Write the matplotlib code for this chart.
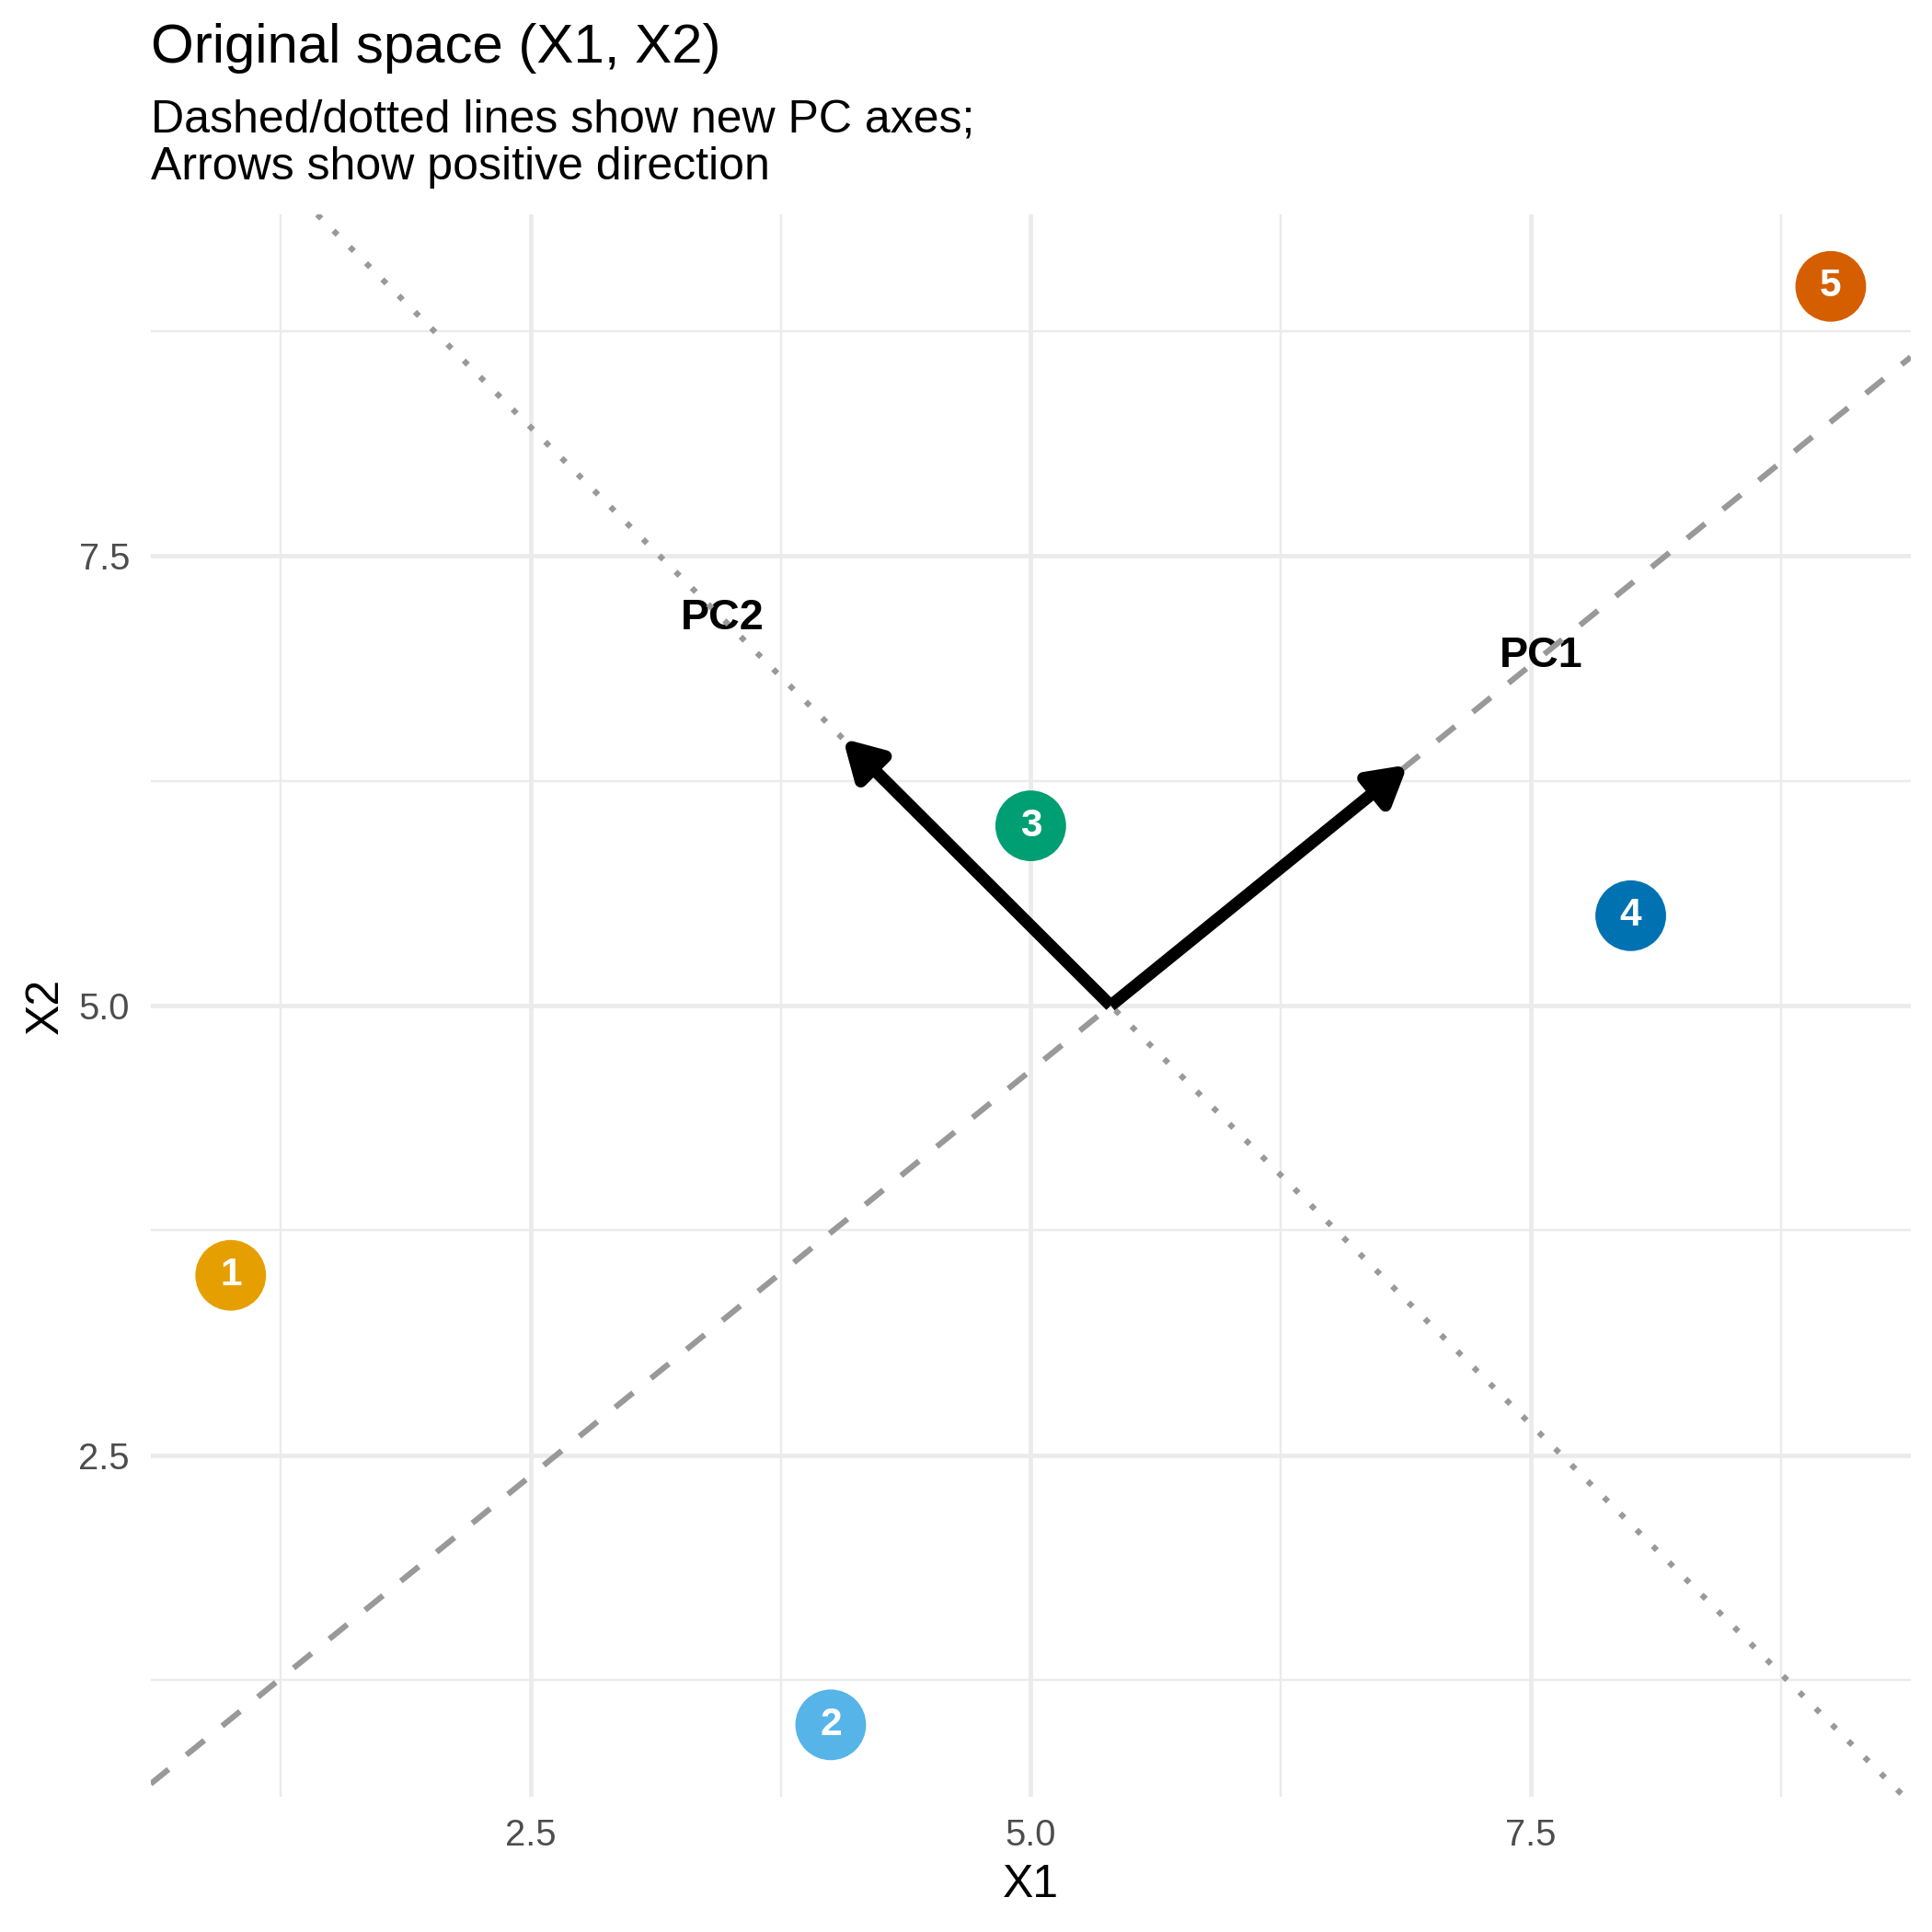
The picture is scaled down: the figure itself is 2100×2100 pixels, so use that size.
import numpy as np
import matplotlib.pyplot as plt
from matplotlib.patches import FancyArrowPatch, ArrowStyle
from matplotlib.ticker import MultipleLocator

plt.rcParams['font.family'] = ['Liberation Sans', 'DejaVu Sans']

# data
point_id = ["1", "2", "3", "4", "5"]
x1 = np.array([1.0, 4.0, 5.0, 8.0, 9.0])
x2 = np.array([3.5, 1.0, 6.0, 5.5, 9.0])
point_colors = ["#E69F00", "#56B4E9", "#009E73", "#0072B2", "#D55E00"]
pc_names = ["PC1", "PC2"]
arrow_scale = 2.0
label_scale = 2.9

# PCA on the points
center = np.array([x1.mean(), x2.mean()])
cov = np.cov(np.vstack([x1, x2]))
evals, evecs = np.linalg.eigh(cov)
order = np.argsort(evals)[::-1]
evecs = evecs[:, order]
pc1 = evecs[:, 0] * np.sign(evecs[0, 0])
pc2 = evecs[:, 1] * np.sign(evecs[1, 1])

fig = plt.figure(figsize=(7, 7), dpi=300)
ax = fig.add_axes([0.078, 0.070, 0.911, 0.819])

grid_col = "#EBEBEB"
ax.set_xlim(0.6, 9.4)
ax.set_ylim(0.6, 9.4)
for s in ax.spines.values():
    s.set_visible(False)
ax.xaxis.set_major_locator(MultipleLocator(2.5))
ax.yaxis.set_major_locator(MultipleLocator(2.5))
ax.xaxis.set_minor_locator(MultipleLocator(1.25))
ax.yaxis.set_minor_locator(MultipleLocator(1.25))
ax.grid(which="major", color=grid_col, linewidth=1.15)
ax.grid(which="minor", color=grid_col, linewidth=0.58)
ax.set_axisbelow(True)
ax.tick_params(which="both", length=0)
ax.tick_params(axis="both", labelsize=9.6, labelcolor="#4D4D4D")
ax.tick_params(axis="x", pad=5.5)
ax.tick_params(axis="y", pad=5.5)
ax.xaxis.set_major_formatter(plt.FuncFormatter(lambda v, p: f"{v:.1f}"))
ax.yaxis.set_major_formatter(plt.FuncFormatter(lambda v, p: f"{v:.1f}"))

# PC labels sit underneath the axis lines
for name, vec in zip(pc_names, (pc1, pc2)):
    pos = center + label_scale * vec
    ax.text(pos[0], pos[1], name, fontsize=11.2, fontweight="bold",
            ha="center", va="center", zorder=3)

# PC axes lines
ax.axline(center, slope=pc1[1] / pc1[0], color="#999999", lw=1.5,
          linestyle=(0, (4, 4)), zorder=3.5)
ax.axline(center, slope=pc2[1] / pc2[0], color="#999999", lw=1.5,
          linestyle=(0, (1, 3)), zorder=3.5)

# arrows
head = ArrowStyle("-|>", head_length=8.0, head_width=4.6)
for vec in (pc1, pc2):
    end = center + arrow_scale * vec
    arr = FancyArrowPatch(tuple(center), tuple(end), arrowstyle=head,
                          mutation_scale=1, color="black", lw=3.2,
                          shrinkA=0, shrinkB=0, joinstyle="round",
                          capstyle="butt", zorder=4)
    ax.add_patch(arr)

# points
ax.scatter(x1, x2, s=340, c=point_colors, linewidths=0, zorder=5)
for lab, xx, yy in zip(point_id, x1, x2):
    ax.text(xx, yy, lab, color="white", fontsize=10.2, fontweight="bold",
            ha="center", va="center", zorder=6)

ax.set_xlabel("X1", fontsize=12, labelpad=3)
ax.set_ylabel("X2", fontsize=12, labelpad=3)

fig.text(0.078, 1 - 68 / 2100, "Original space (X1, X2)", fontsize=14.4,
         ha="left", va="baseline")
fig.text(0.078, 1 - 143 / 2100, "Dashed/dotted lines show new PC axes;",
         fontsize=12, ha="left", va="baseline")
fig.text(0.078, 1 - 195 / 2100, "Arrows show positive direction",
         fontsize=12, ha="left", va="baseline")

fig.savefig("out.png", dpi=300, facecolor="white")
